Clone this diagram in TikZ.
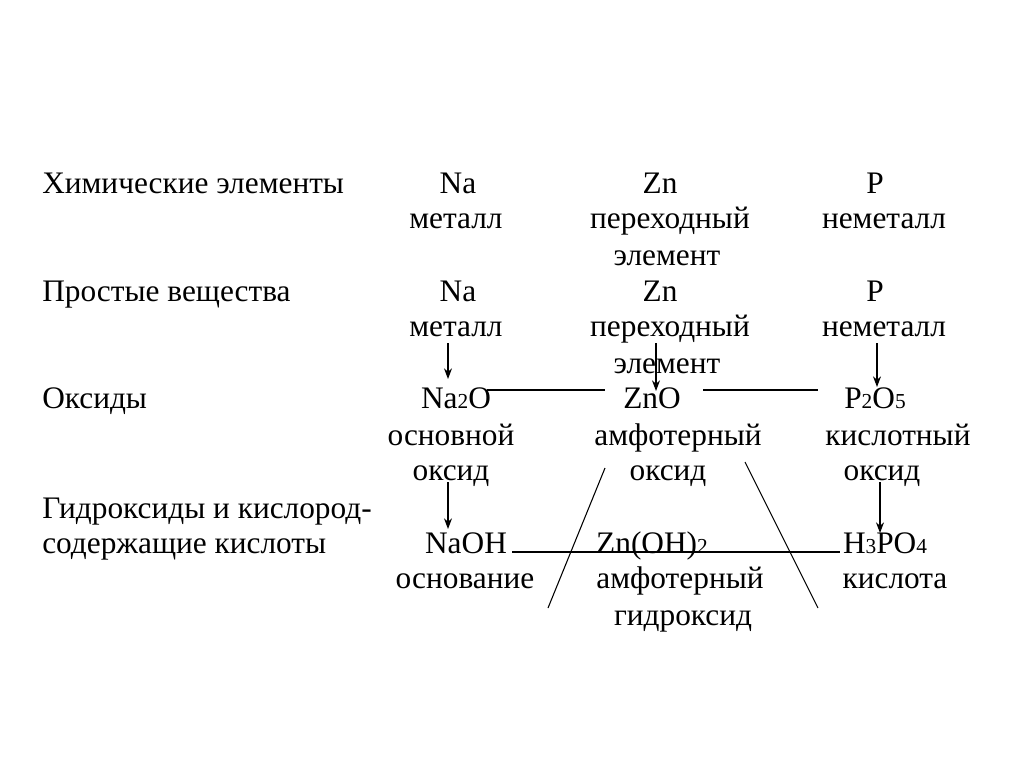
\documentclass[tikz,border=0pt]{standalone}
\usepackage{fontspec}
\usetikzlibrary{arrows.meta}
\setmainfont{Liberation Serif}
\begin{document}
\begin{tikzpicture}[x=0.75pt,y=-0.75pt,
  t/.style={font=\fontsize{23.5}{25}\selectfont,inner sep=0pt,anchor=base,yshift=-6pt},
  l/.style={t,anchor=base west},
  arr/.style={-{Stealth[length=8pt,width=6pt]},line width=0.8pt},
  ln/.style={line width=0.8pt}]
\useasboundingbox (0,0) rectangle (1024,767);
\newcommand{\sm}[1]{{\fontsize{16}{17}\selectfont #1}}
% row labels
\node[l] (r1) at (42,185) {Химические элементы};
\node[l] (r2) at (42,293) {Простые вещества};
\node[l] (r3) at (42,400) {Оксиды};
\node[l] (r4a) at (42,510) {Гидроксиды и кислород-};
\node[l] (r4b) at (42,545) {содержащие кислоты};
% row 1
\node[t] (na1) at (458,185) {Na};
\node[t] (zn1) at (660,185) {Zn};
\node[t] (p1) at (875,185) {P};
\node[t] (m1) at (456,220) {металл};
\node[t] (pe1) at (670,220) {переходный};
\node[t] (e1) at (667,257) {элемент};
\node[t] (nm1) at (884,220) {неметалл};
% row 2
\node[t] (na2) at (458,293) {Na};
\node[t] (zn2) at (660,293) {Zn};
\node[t] (p2) at (875,293) {P};
\node[t] (m2) at (456,328) {металл};
\node[t] (pe2) at (670,328) {переходный};
\node[t] (e2) at (667,365) {элемент};
\node[t] (nm2) at (884,328) {неметалл};
% row 3
\node[t] (na2o) at (456,400) {Na\sm{2}O};
\node[t] (zno) at (652,400) {ZnO};
\node[t] (p2o5) at (875,400) {P\sm{2}O\sm{5}};
\node[t] (os) at (451,437) {основной};
\node[t] (am) at (678,437) {амфотерный};
\node[t] (ki) at (898,437) {кислотный};
\node[t] (ok1) at (451,472) {оксид};
\node[t] (ok2) at (668,472) {оксид};
\node[t] (ok3) at (882,472) {оксид};
% row 4
\node[t] (naoh) at (466,545) {NaOH};
\node[t] (znoh) at (652,545) {Zn(OH)\sm{2}};
\node[t] (h3po4) at (885,545) {H\sm{3}PO\sm{4}};
\node[t] (osn) at (465,580) {основание};
\node[t] (am2) at (680,580) {амфотерный};
\node[t] (kis) at (895,580) {кислота};
\node[t] (gid) at (683,617) {гидроксид};
% arrows
\coordinate (a1s) at (448,343); \coordinate (a1e) at (448,379);
\coordinate (a2s) at (656,343); \coordinate (a2e) at (656,391);
\coordinate (a3s) at (877,343); \coordinate (a3e) at (877,387);
\coordinate (a4s) at (448,482); \coordinate (a4e) at (448,529);
\coordinate (a5s) at (880,482); \coordinate (a5e) at (880,533);
\draw[arr] (a1s) -- (a1e);
\draw[arr] (a2s) -- (a2e);
\draw[arr] (a3s) -- (a3e);
\draw[arr] (a4s) -- (a4e);
\draw[arr] (a5s) -- (a5e);
% lines
\coordinate (h1a) at (487,390); \coordinate (h1b) at (605,390);
\coordinate (h2a) at (703,390); \coordinate (h2b) at (818,390);
\coordinate (h3a) at (512,552); \coordinate (h3b) at (840,552);
\draw[ln] (h1a) -- (h1b);
\draw[ln] (h2a) -- (h2b);
\draw[ln] (h3a) -- (h3b);
\coordinate (d1a) at (605,468); \coordinate (d1b) at (548,608);
\coordinate (d2a) at (745,462); \coordinate (d2b) at (818,608);
\draw[ln] (d1a) -- (d1b);
\draw[ln] (d2a) -- (d2b);
\end{tikzpicture}
\end{document}
